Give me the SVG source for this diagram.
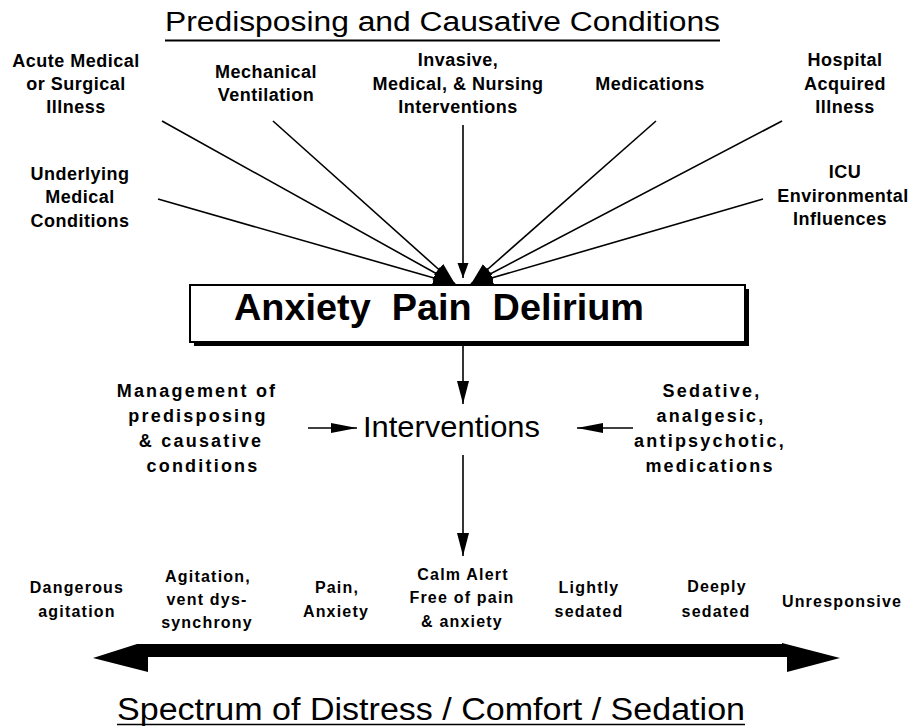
<svg xmlns="http://www.w3.org/2000/svg" width="909" height="726" viewBox="0 0 909 726">
<defs>
<style>
.t{font-family:"Liberation Sans",Arial,sans-serif;fill:#000}
.lbl{font-weight:bold;font-size:18px;letter-spacing:0.5px}
.mid{font-weight:bold;font-size:18px;letter-spacing:2.2px}
.bot{font-weight:bold;font-size:16px;letter-spacing:1.2px}
.ln{stroke:#000;stroke-width:1.6;fill:none}
.ln2{stroke:#000;stroke-width:1.6;fill:none}
</style>
<marker id="ah" markerUnits="userSpaceOnUse" markerWidth="26" markerHeight="16" refX="22" refY="7" orient="auto"><path d="M0,0 L22,7 L0,14 z" fill="#000"/></marker>
<marker id="ahs" markerUnits="userSpaceOnUse" markerWidth="18" markerHeight="14" refX="15" refY="5.5" orient="auto"><path d="M0,0 L15,5.5 L0,11 z" fill="#000"/></marker>
<marker id="ahm" markerUnits="userSpaceOnUse" markerWidth="26" markerHeight="14" refX="23" refY="6" orient="auto"><path d="M0,0 L23,6 L0,12 z" fill="#000"/></marker>
<marker id="ahh" markerUnits="userSpaceOnUse" markerWidth="30" markerHeight="12" refX="26" refY="5" orient="auto"><path d="M0,0 L26,5 L0,10 z" fill="#000"/></marker>
</defs>
<rect width="909" height="726" fill="#fff"/>

<g id="title-top">
<text class="t" x="165" y="31" font-size="27" textLength="555" lengthAdjust="spacingAndGlyphs">Predisposing and Causative Conditions</text>
<line x1="165" y1="40.5" x2="720" y2="40.5" stroke="#000" stroke-width="2"/>
</g>

<g id="acute" class="t lbl" text-anchor="middle">
<text x="76" y="67">Acute Medical</text>
<text x="76" y="90">or Surgical</text>
<text x="76" y="113">Illness</text>
</g>
<g id="mechanical" class="t lbl" text-anchor="middle">
<text x="266" y="78">Mechanical</text>
<text x="266" y="101">Ventilation</text>
</g>
<g id="invasive" class="t lbl" text-anchor="middle">
<text x="458" y="66">Invasive,</text>
<text x="458" y="90">Medical, &amp; Nursing</text>
<text x="458" y="113">Interventions</text>
</g>
<g id="medications" class="t lbl" text-anchor="middle">
<text x="650" y="90">Medications</text>
</g>
<g id="hospital" class="t lbl" text-anchor="middle">
<text x="845" y="66">Hospital</text>
<text x="845" y="90">Acquired</text>
<text x="845" y="113">Illness</text>
</g>
<g id="underlying" class="t lbl" text-anchor="middle">
<text x="80" y="180">Underlying</text>
<text x="80" y="203">Medical</text>
<text x="80" y="227">Conditions</text>
</g>
<g id="icu" class="t lbl" text-anchor="middle">
<text x="845" y="178">ICU</text>
<text x="843" y="202">Environmental</text>
<text x="840" y="225">Influences</text>
</g>

<g id="apd">
<rect x="194" y="289" width="555" height="57" fill="#000"/>
<rect x="190" y="285" width="555" height="57" fill="#fff" stroke="#000" stroke-width="2"/>
<text class="t" x="234" y="320" font-size="36" font-weight="bold" textLength="410" lengthAdjust="spacingAndGlyphs" xml:space="preserve">Anxiety  Pain  Delirium</text>
</g>

<g id="interventions">
<text class="t" x="363" y="437" font-size="30" textLength="177" lengthAdjust="spacingAndGlyphs">Interventions</text>
</g>

<g id="management" class="t mid" text-anchor="middle">
<text x="197" y="397">Management of</text>
<text x="198" y="422">predisposing</text>
<text x="201" y="447">&amp; causative</text>
<text x="203" y="472">conditions</text>
</g>
<g id="sedative" class="t mid" text-anchor="middle">
<text x="712" y="397">Sedative,</text>
<text x="711" y="422">analgesic,</text>
<text x="710" y="447">antipsychotic,</text>
<text x="710" y="472">medications</text>
</g>

<g id="connectors">
<line class="ln" x1="162" y1="121" x2="455" y2="284" marker-end="url(#ah)"/>
<line class="ln" x1="273" y1="121" x2="455" y2="284" marker-end="url(#ah)"/>
<line class="ln" x1="158" y1="199" x2="455" y2="284" marker-end="url(#ah)"/>
<line class="ln" x1="656" y1="121" x2="471" y2="284" marker-end="url(#ah)"/>
<line class="ln" x1="782" y1="121" x2="471" y2="284" marker-end="url(#ah)"/>
<line class="ln" x1="763" y1="199" x2="471" y2="284" marker-end="url(#ah)"/>
<line class="ln" x1="463" y1="125" x2="463" y2="278" marker-end="url(#ahs)"/>
<line class="ln2" x1="463" y1="346" x2="463" y2="404" marker-end="url(#ahm)"/>
<line class="ln2" x1="463" y1="455" x2="463" y2="556" marker-end="url(#ahm)"/>
<line class="ln2" x1="308" y1="428" x2="357" y2="428" marker-end="url(#ahh)"/>
<line class="ln2" x1="633" y1="428" x2="577" y2="428" marker-end="url(#ahh)"/>
</g>

<g id="spectrum-labels" class="t bot" text-anchor="middle">
<text x="77" y="593">Dangerous</text>
<text x="77" y="617">agitation</text>
<text x="208" y="582">Agitation,</text>
<text x="207" y="605">vent dys-</text>
<text x="207" y="628">synchrony</text>
<text x="337" y="593">Pain,</text>
<text x="336" y="617">Anxiety</text>
<text x="463" y="580">Calm Alert</text>
<text x="462" y="603">Free of pain</text>
<text x="462" y="627">&amp; anxiety</text>
<text x="589" y="593">Lightly</text>
<text x="589" y="617">sedated</text>
<text x="717" y="592">Deeply</text>
<text x="716" y="617">sedated</text>
<text x="842" y="607">Unresponsive</text>
</g>

<g id="spectrum-arrow">
<polygon points="93,658 137,644 782,644 782,643 840,658 787,672 787,657 148,657 148,672" fill="#000"/>
</g>

<g id="title-bottom">
<text class="t" x="117" y="720" font-size="31" textLength="628" lengthAdjust="spacingAndGlyphs">Spectrum of Distress / Comfort / Sedation</text>
<line x1="117" y1="724.5" x2="745" y2="724.5" stroke="#000" stroke-width="1.5"/>
</g>
</svg>
